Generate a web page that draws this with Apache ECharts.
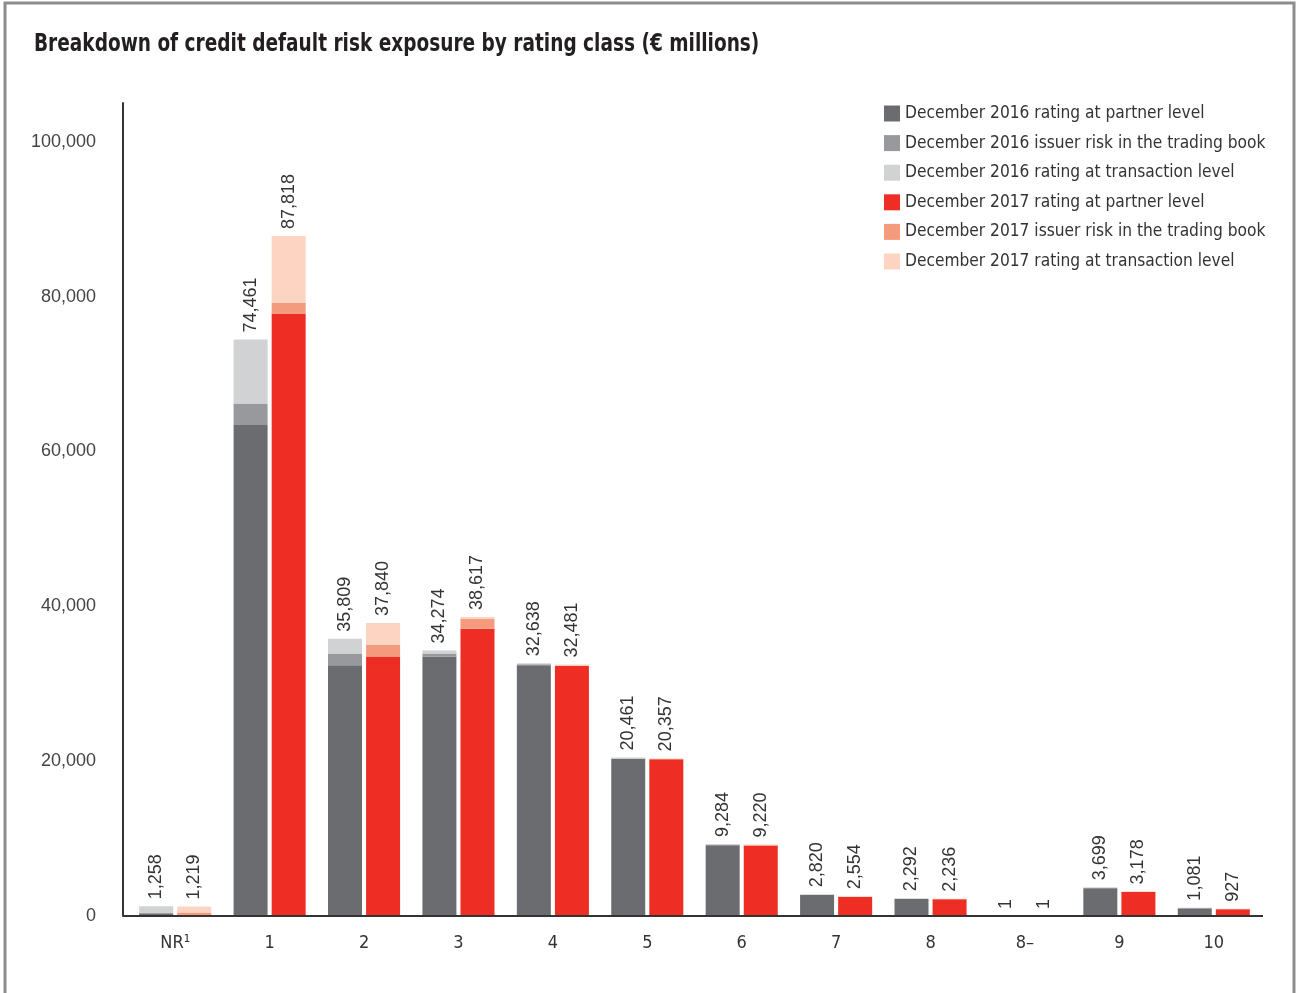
<!DOCTYPE html>
<html>
<head>
<meta charset="utf-8">
<script src="https://cdn.jsdelivr.net/npm/echarts@6/dist/echarts.min.js"></script>
<style>
html,body{margin:0;padding:0;background:#fff;}
#chart{width:1296px;height:993px;}
</style>
</head>
<body>
<div id="chart"></div>
<script>
const categories = ['NR¹','1','2','3','4','5','6','7','8','8–','9','10'];
const p2016 = [350, 63400, 32400, 33500, 32400, 20300, 9150, 2700, 2200, 1, 3600, 1000];
const i2016 = [0, 2800, 1500, 400, 100, 50, 30, 20, 10, 0, 30, 10];
const t2016 = [908, 8261, 1909, 374, 138, 111, 104, 100, 82, 0, 69, 71];
const p2017 = [0, 77800, 33450, 37100, 32300, 20250, 9100, 2450, 2150, 1, 3100, 880];
const i2017 = [450, 1400, 1550, 1270, 50, 30, 40, 30, 30, 0, 20, 10];
const t2017 = [769, 8618, 2840, 247, 131, 77, 80, 74, 56, 0, 58, 37];
const total2016 = [1258, 74461, 35809, 34274, 32638, 20461, 9284, 2820, 2292, 1, 3699, 1081];
const total2017 = [1219, 87818, 37840, 38617, 32481, 20357, 9220, 2554, 2236, 1, 3178, 927];
const yTicks = [0, 20000, 40000, 60000, 80000, 100000];

const narrow = '"Liberation Sans Narrow","DejaVu Sans Condensed","Liberation Sans",sans-serif';
const regular = '"Liberation Sans",Arial,sans-serif';
const fmt = n => n.toLocaleString('en-US');

function totalLabel(totals){
  return {
    show: true,
    position: 'top',
    rotate: 90,
    align: 'left',
    verticalAlign: 'middle',
    distance: 7,
    fontFamily: regular,
    fontSize: 18,
    color: '#333',
    formatter: p => fmt(totals[p.dataIndex])
  };
}

function bar(name, stack, data, color, label){
  const s = {
    name, type: 'bar', stack, data,
    barWidth: 34,
    barGap: '12%',
    itemStyle: {color},
    emphasis: {disabled: true}
  };
  if (label) s.label = label;
  return s;
}

const chart = echarts.init(document.getElementById('chart'));
chart.setOption({
  animation: false,
  backgroundColor: '#fff',
  graphic: [
    {type:'rect', shape:{x:5, y:3, width:1289, height:1010}, style:{fill:'none', stroke:'#8c8c8c', lineWidth:3}, silent:true},
    {type:'line', shape:{x1:123, y1:916, x2:1263, y2:916}, style:{stroke:'#333', lineWidth:2}, silent:true, z:10},
    {type:'text', x:34, y:33, scaleX:0.858, style:{text:'Breakdown of credit default risk exposure by rating class (€ millions)', fontFamily:narrow, fontSize:24, fontWeight:'bold', fill:'#231f20'}}
  ],
  legend: {
    orient: 'vertical',
    left: 884,
    top: 105,
    padding: 0,
    itemWidth: 16,
    itemHeight: 16,
    itemGap: 12.6,
    icon: 'rect',
    textStyle: {fontFamily: narrow, fontSize: 17.2, lineHeight: 16, color: '#333'},
    data: ['December 2016 rating at partner level','December 2016 issuer risk in the trading book','December 2016 rating at transaction level','December 2017 rating at partner level','December 2017 issuer risk in the trading book','December 2017 rating at transaction level']
  },
  grid: {left: 128, right: 35, top: 103, bottom: 77, containLabel: false},
  xAxis: {
    type: 'category',
    data: categories,
    axisLine: {lineStyle: {color: '#333', width: 2}},
    axisTick: {show: false},
    axisLabel: {fontFamily: narrow, fontSize: 18, color: '#333', margin: 18}
  },
  yAxis: {
    type: 'value',
    min: 0,
    max: 105000,
    interval: 20000,
    offset: 5,
    splitLine: {show: false},
    axisTick: {show: false},
    axisLine: {show: true, lineStyle: {color: '#333', width: 2}},
    axisLabel: {
      fontFamily: regular, fontSize: 18, color: '#444', margin: 27,
      formatter: v => yTicks.includes(v) ? fmt(v) : ''
    }
  },
  series: [
    bar('December 2016 rating at partner level', '2016', p2016, '#6b6c70'),
    bar('December 2016 issuer risk in the trading book', '2016', i2016, '#98999d'),
    bar('December 2016 rating at transaction level', '2016', t2016, '#d1d2d4', totalLabel(total2016)),
    bar('December 2017 rating at partner level', '2017', p2017, '#ee2e24'),
    bar('December 2017 issuer risk in the trading book', '2017', i2017, '#f59b7d'),
    bar('December 2017 rating at transaction level', '2017', t2017, '#fdd4c2', totalLabel(total2017))
  ]
});
</script>
</body>
</html>
